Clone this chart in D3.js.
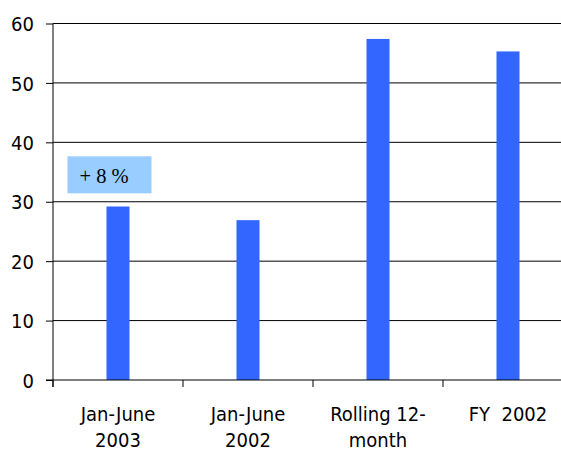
<!DOCTYPE html>
<html>
<head>
<meta charset="utf-8">
<script src="https://cdn.jsdelivr.net/npm/d3@7/dist/d3.min.js"></script>
<style>
  html, body { margin: 0; padding: 0; background: #fff; }
  svg { display: block; }
  .axis text { font-family: "DejaVu Sans Condensed", "DejaVu Sans", sans-serif; font-stretch: condensed; fill: #000; }
</style>
</head>
<body>
<svg id="chart" width="561" height="451"></svg>
<script>
// Periods and their values
const categories = [["Jan-June", "2003"], ["Jan-June", "2002"], ["Rolling 12-", "month"], ["FY  2002", ""]];
const values = [29.2, 26.9, 57.4, 55.3];
const yTicks = [0, 10, 20, 30, 40, 50, 60];
const noteText = "+ 8 %";

const svg = d3.select("#chart");
const plotLeft = 53, plotRight = 573, plotTop = 23.5, plotBottom = 380;

const x = d3.scaleBand()
  .domain(d3.range(categories.length))
  .range([plotLeft, plotRight])
  .paddingInner(0.823)
  .paddingOuter(0.4115);

const y = d3.scaleLinear().domain([0, 60]).range([plotBottom, plotTop]);

// Horizontal gridlines
svg.append("g")
  .selectAll("line")
  .data(yTicks.filter(d => d > 0))
  .join("line")
  .attr("x1", plotLeft).attr("x2", plotRight)
  .attr("y1", d => y(d)).attr("y2", d => y(d))
  .attr("stroke", "#000").attr("stroke-width", 1);

// Bars
svg.append("g")
  .selectAll("rect")
  .data(values)
  .join("rect")
  .attr("x", (d, i) => x(i))
  .attr("width", x.bandwidth())
  .attr("y", d => y(d))
  .attr("height", d => y(0) - y(d))
  .attr("fill", "#3366FF");

// Y axis
const yAxis = svg.append("g")
  .attr("class", "axis")
  .attr("transform", `translate(${plotLeft},0)`)
  .call(d3.axisLeft(y).tickValues(yTicks).tickSize(7).tickPadding(12));
yAxis.select(".domain").attr("d", `M0,${plotTop}V${plotBottom + 7}`).attr("stroke", "#000");
yAxis.selectAll(".tick line").attr("stroke", "#000");
yAxis.selectAll("text").attr("font-size", 20).attr("dy", "0.36em");

// X axis with ticks on band boundaries
const step = x.step();
const xAxis = svg.append("g").attr("class", "axis");
xAxis.append("line")
  .attr("x1", plotLeft - 7).attr("x2", plotRight)
  .attr("y1", plotBottom).attr("y2", plotBottom)
  .attr("stroke", "#000");
xAxis.selectAll("line.tk")
  .data(d3.range(categories.length + 1))
  .join("line")
  .attr("class", "tk")
  .attr("x1", i => plotLeft + i * step).attr("x2", i => plotLeft + i * step)
  .attr("y1", plotBottom).attr("y2", plotBottom + 7)
  .attr("stroke", "#000");

const labels = xAxis.selectAll("text.cat")
  .data(categories)
  .join("text")
  .attr("class", "cat")
  .attr("text-anchor", "middle")
  .attr("font-size", 20)
  .attr("x", (d, i) => x(i) + x.bandwidth() / 2)
  .attr("y", plotBottom + 41);
labels.each(function(d) {
  const t = d3.select(this);
  d.forEach((line, k) => {
    if (!line) return;
    t.append("tspan")
      .attr("x", t.attr("x"))
      .attr("dy", k === 0 ? 0 : 26)
      .style("white-space", "pre")
      .text(line);
  });
});

// Change annotation above the first bar
const bx = x(0) - 39, by = y(40) + 14;
svg.append("rect")
  .attr("x", bx).attr("y", by)
  .attr("width", 84).attr("height", 37)
  .attr("fill", "#99CCFF");
svg.append("text")
  .attr("x", bx + 12).attr("y", by + 27)
  .attr("font-family", "'Liberation Serif', 'Times New Roman', serif")
  .attr("font-size", 20.5)
  .attr("fill", "#000")
  .style("white-space", "pre")
  .text(noteText);
</script>
</body>
</html>
